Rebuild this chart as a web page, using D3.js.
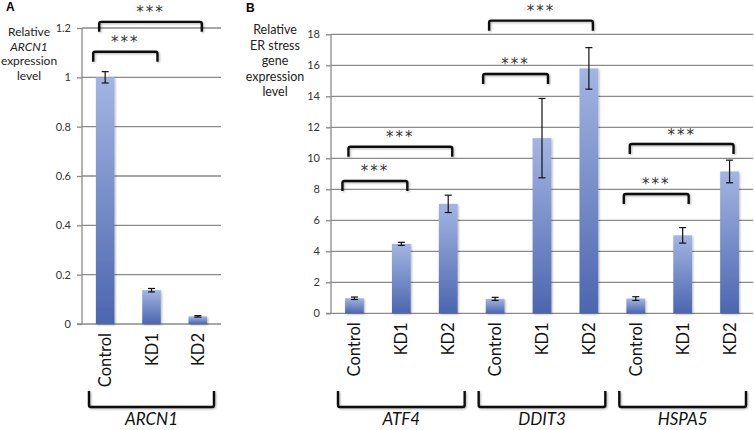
<!DOCTYPE html>
<html><head><meta charset="utf-8">
<script src="https://cdn.jsdelivr.net/npm/d3@7/dist/d3.min.js"></script>
<style>
body{margin:0;background:#fff;}
svg{display:block;font-family:Lato, "Open Sans", sans-serif;}
</style></head>
<body><svg id="c" width="754" height="430"></svg>
<script>
// ---- Data ----
const conditions = ["Control", "KD1", "KD2"];
const arcnValues = [1.0, 0.137, 0.031];
const arcnErrors = [0.023, 0.007, 0.003];
const arcnTicks = [0, 0.2, 0.4, 0.6, 0.8, 1, 1.2];

const genes = ["ATF4", "DDIT3", "HSPA5"];
const geneValues = [
  [0.97, 4.48, 7.06],
  [0.93, 11.3, 15.8],
  [0.95, 5.03, 9.15]
];
const geneErrors = [
  [0.08, 0.1, 0.56],
  [0.1, 2.56, 1.34],
  [0.12, 0.5, 0.73]
];
const geneTicks = [0, 2, 4, 6, 8, 10, 12, 14, 16, 18];

// significance brackets: [group, fromCond, toCond, level]
const arcnSig = [[0, 0, 1, 1.104], [0, 0, 2, 1.225]];
const geneSig = [
  [0, 0, 1, 8.54], [0, 0, 2, 10.75],
  [1, 0, 1, 15.44], [1, 0, 2, 18.88],
  [2, 0, 1, 7.7], [2, 0, 2, 10.92]
];

const svg = d3.select("#c");
const defs = svg.append("defs");
const grad = defs.append("linearGradient").attr("id", "barg")
  .attr("x1", 0).attr("y1", 0).attr("x2", 0).attr("y2", 1);
grad.append("stop").attr("offset", "0%").attr("stop-color", "#a3b5e2");
grad.append("stop").attr("offset", "100%").attr("stop-color", "#4b66af");
const flt = defs.append("filter").attr("id", "sh").attr("x", "-20%").attr("y", "-20%").attr("width", "150%").attr("height", "150%");
flt.append("feDropShadow").attr("dx", 1).attr("dy", 1).attr("stdDeviation", 0.8).attr("flood-color", "#000").attr("flood-opacity", 0.3);

function panel(opts) {
  const {x0, x1, yTop, yBot, domainMax, ticks, groups, values, errors, sig, tickFmt} = opts;
  const bandKeys = [];
  groups.forEach((g, gi) => conditions.forEach((c, ci) => bandKeys.push(gi + "-" + ci)));
  const x = d3.scaleBand().domain(bandKeys).range([x0, x1]).paddingInner(0.6).paddingOuter(0.3);
  const y = d3.scaleLinear().domain([0, domainMax]).range([yBot, yTop]);
  const cx = (gi, ci) => x(gi + "-" + ci) + x.bandwidth() / 2;

  // gridlines
  svg.append("g").selectAll("line").data(ticks.slice(1)).join("line")
    .attr("x1", x0).attr("x2", x1)
    .attr("y1", d => y(d)).attr("y2", d => y(d))
    .attr("stroke", "#8a8a8a").attr("stroke-width", 1.3);

  // y axis
  const ax = svg.append("g").attr("transform", `translate(${x0},0)`)
    .call(d3.axisLeft(y).tickValues(ticks).tickFormat(tickFmt).tickSize(5).tickPadding(6));
  ax.select(".domain").attr("stroke", "#8a8a8a").attr("stroke-width", 1.3).attr("d", `M-5,${yBot}H0V${yTop}`);
  ax.selectAll(".tick line").attr("stroke", "#8a8a8a").attr("stroke-width", 1.3);
  ax.selectAll(".tick text").attr("fill", "#333").attr("font-size", 11)
    .attr("font-family", "Lato, 'Open Sans', sans-serif");
  svg.append("line").attr("x1", x0).attr("x2", x1).attr("y1", yBot).attr("y2", yBot)
    .attr("stroke", "#8a8a8a").attr("stroke-width", 1.3);

  // bars
  const rows = [];
  groups.forEach((g, gi) => conditions.forEach((c, ci) =>
    rows.push({gi, ci, v: values[gi][ci], e: errors[gi][ci]})));
  svg.append("g").selectAll("rect").data(rows).join("rect")
    .attr("x", d => x(d.gi + "-" + d.ci)).attr("width", x.bandwidth())
    .attr("y", d => y(d.v)).attr("height", d => yBot - y(d.v))
    .attr("fill", "url(#barg)").attr("filter", "url(#sh)");

  // error bars
  const eg = svg.append("g").attr("stroke", "#111").attr("stroke-width", 1.2);
  rows.forEach(d => {
    const c = cx(d.gi, d.ci);
    eg.append("line").attr("x1", c).attr("x2", c).attr("y1", y(d.v + d.e)).attr("y2", y(d.v - d.e));
    eg.append("line").attr("x1", c - 3.5).attr("x2", c + 3.5).attr("y1", y(d.v + d.e)).attr("y2", y(d.v + d.e));
    eg.append("line").attr("x1", c - 3.5).attr("x2", c + 3.5).attr("y1", y(d.v - d.e)).attr("y2", y(d.v - d.e));
  });

  // significance brackets
  sig.forEach(([gi, a, b, lv]) => {
    const long = (b - a) > 1;
    const xl = cx(gi, a) - (long ? 6 : 12);
    const xr = cx(gi, b) + (long ? 4 : 6);
    const yt = y(lv);
    svg.append("path")
      .attr("d", `M${xl},${yt + 10}V${yt + 2}Q${xl},${yt} ${xl + 2},${yt}H${xr - 2}Q${xr},${yt} ${xr},${yt + 2}V${yt + 10}`)
      .attr("fill", "none").attr("stroke", "#111").attr("stroke-width", 2.4)
      .attr("filter", "url(#sh)");
    svg.append("text").attr("x", (xl + xr) / 2).attr("y", yt - 9)
      .attr("text-anchor", "middle").attr("font-size", 15).attr("letter-spacing", 2)
      .attr("fill", "#333").attr("font-family", "'DejaVu Sans', sans-serif")
      .attr("dominant-baseline", "middle").text("***");
  });

  // x labels
  rows.forEach(d => {
    const c = cx(d.gi, d.ci);
    svg.append("text").attr("transform", `translate(${c + 6},${yBot + 9}) rotate(-90)`)
      .attr("text-anchor", "end").attr("font-size", 16.5).attr("fill", "#111")
      .text(conditions[d.ci]);
  });

  // group brackets
  groups.forEach((g, gi) => {
    const xl = x(gi + "-0") - x.step() * 0.3 + 7;
    const xr = x(gi + "-2") + x.bandwidth() + x.step() * 0.3 - 7;
    const yt = 391, yb = 407;
    svg.append("path")
      .attr("d", `M${xl},${yt}V${yb - 2}Q${xl},${yb} ${xl + 2},${yb}H${xr - 2}Q${xr},${yb} ${xr},${yb - 2}V${yt}`)
      .attr("fill", "none").attr("stroke", "#111").attr("stroke-width", 2.4).attr("filter", "url(#sh)");
    svg.append("text").attr("x", (xl + xr) / 2).attr("y", 425)
      .attr("text-anchor", "middle").attr("font-size", 17).attr("font-style", "italic")
      .attr("fill", "#111").text(g);
  });
  return {x, y};
}

panel({x0: 82, x1: 221, yTop: 28, yBot: 324, domainMax: 1.2, ticks: arcnTicks,
  groups: ["ARCN1"], values: [arcnValues], errors: [arcnErrors], sig: arcnSig,
  tickFmt: d => String(d)});
panel({x0: 331, x1: 753, yTop: 34.3, yBot: 313.3, domainMax: 18, ticks: geneTicks,
  groups: genes, values: geneValues, errors: geneErrors, sig: geneSig,
  tickFmt: d => String(d)});

// panel letters
svg.append("text").attr("x", 6).attr("y", 11).attr("font-size", 12).attr("font-weight", "bold").attr("font-family", "'Liberation Sans', Arial, sans-serif").text("A");
svg.append("text").attr("x", 246).attr("y", 12).attr("font-size", 12).attr("font-weight", "bold").attr("font-family", "'Liberation Sans', Arial, sans-serif").text("B");

// y titles
const tA = [["Relative", false], ["ARCN1", true], ["expression", false], ["level", false]];
tA.forEach(([t, it], i) => svg.append("text").attr("x", 29).attr("y", 36 + i * 14.7)
  .attr("text-anchor", "middle").attr("font-size", 12).attr("fill", "#222")
  .attr("font-style", it ? "italic" : "normal").text(t));
const tB = ["Relative", "ER stress", "gene", "expression", "level"];
tB.forEach((t, i) => svg.append("text").attr("x", 275).attr("y", 34 + i * 15.5)
  .attr("text-anchor", "middle").attr("font-size", 12.5).attr("fill", "#222").text(t));
</script></body></html>
